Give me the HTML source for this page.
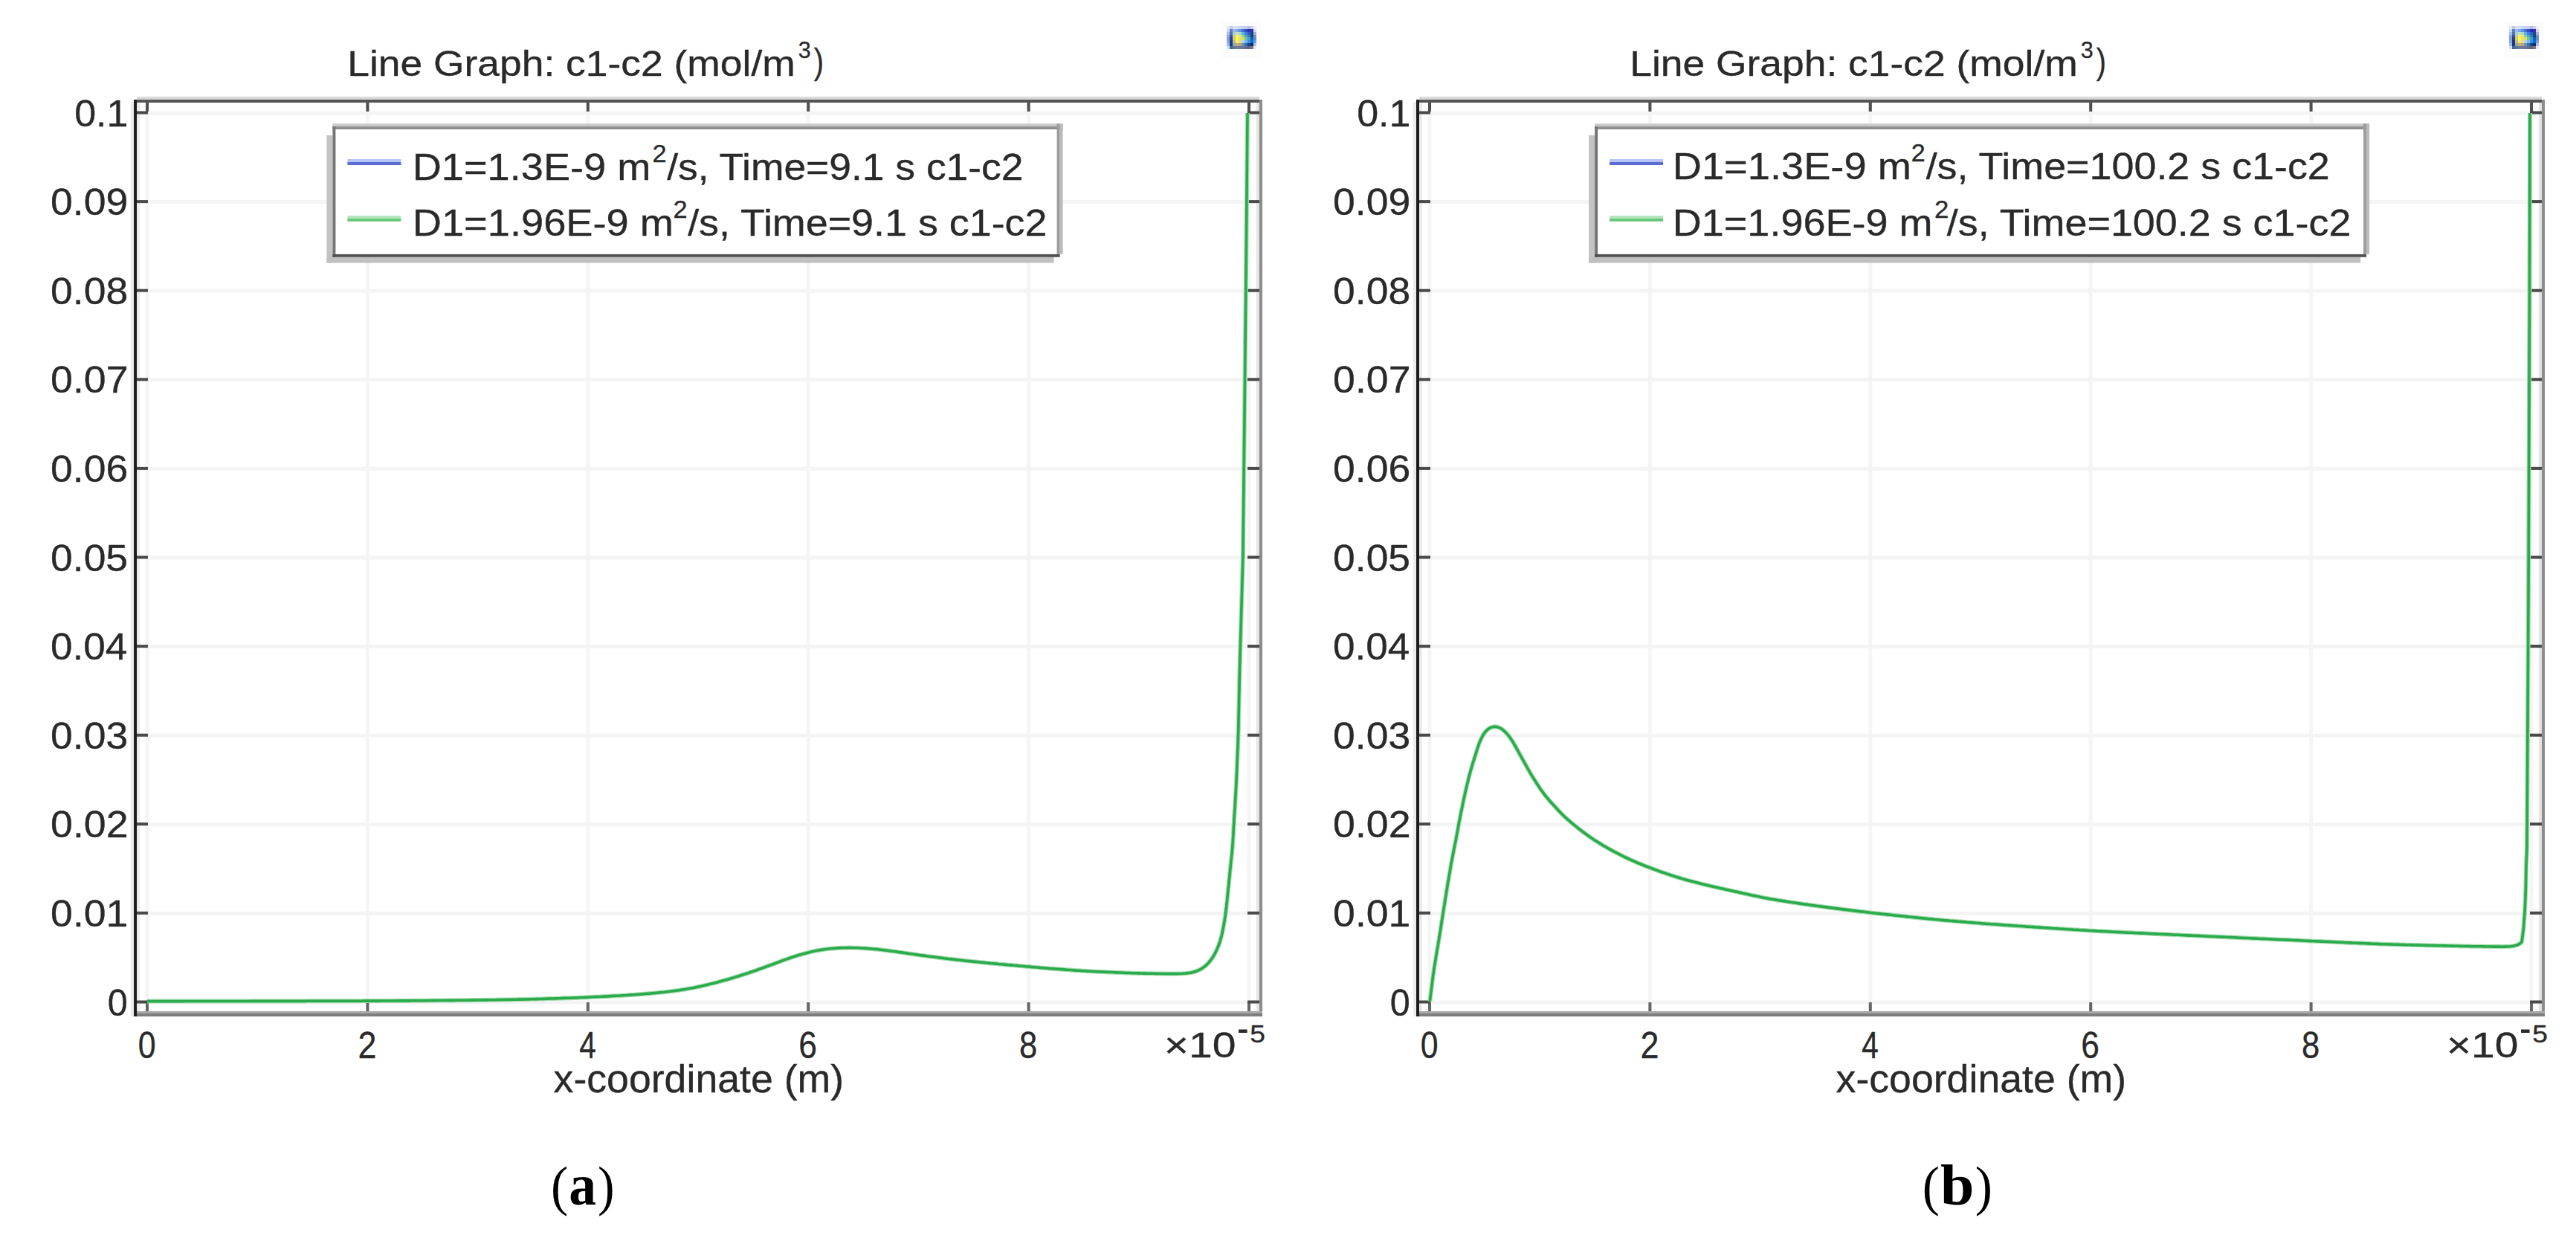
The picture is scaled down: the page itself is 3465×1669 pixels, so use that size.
<!DOCTYPE html><html><head><meta charset="utf-8"><title>Line Graph: c1-c2</title><style>html,body{margin:0;padding:0;background:#fff;}body{width:3465px;height:1669px;overflow:hidden;}svg{display:block;font-family:"Liberation Sans", sans-serif;}</style></head><body>
<svg width="3465" height="1669" viewBox="0 0 3465 1669">
<rect width="3465" height="1669" fill="#fff"/>
<g transform="translate(0,0)">
<text x="467.19" y="101.50" font-size="49.0" fill="#2a2a2a" stroke="#2a2a2a" stroke-width="0.35" textLength="602.55" lengthAdjust="spacingAndGlyphs">Line Graph: c1-c2 (mol/m</text>
<text x="1073.81" y="77.80" font-size="32.0" fill="#2a2a2a" stroke="#2a2a2a" stroke-width="0.35" textLength="16.95" lengthAdjust="spacingAndGlyphs">3</text>
<text x="1094.74" y="99.00" font-size="49.0" fill="#2a2a2a" stroke="#2a2a2a" stroke-width="0.35" textLength="13.25" lengthAdjust="spacingAndGlyphs">)</text>
<g shape-rendering="crispEdges"><rect x="1644" y="28" width="52" height="50" fill="#fcfcfc"/><rect x="1650.10" y="34.75" width="4.24" height="4.23" fill="#e8e8f4"/><rect x="1654.04" y="34.75" width="4.24" height="4.23" fill="#c0cce0"/><rect x="1657.98" y="34.75" width="4.24" height="4.23" fill="#dde0f5"/><rect x="1661.92" y="34.75" width="4.24" height="4.23" fill="#d0e0f8"/><rect x="1665.86" y="34.75" width="4.24" height="4.23" fill="#c8d8f8"/><rect x="1669.80" y="34.75" width="4.24" height="4.23" fill="#c8d0f5"/><rect x="1673.74" y="34.75" width="4.24" height="4.23" fill="#c8ccf0"/><rect x="1677.68" y="34.75" width="4.24" height="4.23" fill="#b8bcf0"/><rect x="1681.62" y="34.75" width="4.24" height="4.23" fill="#d0d0f5"/><rect x="1685.56" y="34.75" width="4.24" height="4.23" fill="#f0f0fa"/><rect x="1650.10" y="38.68" width="4.24" height="4.23" fill="#c8d8f0"/><rect x="1654.04" y="38.68" width="4.24" height="4.23" fill="#6080c0"/><rect x="1657.98" y="38.68" width="4.24" height="4.23" fill="#a0b8e8"/><rect x="1661.92" y="38.68" width="4.24" height="4.23" fill="#80a8e8"/><rect x="1665.86" y="38.68" width="4.24" height="4.23" fill="#6090e0"/><rect x="1669.80" y="38.68" width="4.24" height="4.23" fill="#4a70d0"/><rect x="1673.74" y="38.68" width="4.24" height="4.23" fill="#3050c0"/><rect x="1677.68" y="38.68" width="4.24" height="4.23" fill="#2030c0"/><rect x="1681.62" y="38.68" width="4.24" height="4.23" fill="#3038a0"/><rect x="1685.56" y="38.68" width="4.24" height="4.23" fill="#d8d8f0"/><rect x="1650.10" y="42.61" width="4.24" height="4.23" fill="#a8c0e8"/><rect x="1654.04" y="42.61" width="4.24" height="4.23" fill="#5070b8"/><rect x="1657.98" y="42.61" width="4.24" height="4.23" fill="#a8d0d0"/><rect x="1661.92" y="42.61" width="4.24" height="4.23" fill="#c8e0b8"/><rect x="1665.86" y="42.61" width="4.24" height="4.23" fill="#a8d8c8"/><rect x="1669.80" y="42.61" width="4.24" height="4.23" fill="#60b0e0"/><rect x="1673.74" y="42.61" width="4.24" height="4.23" fill="#4080e0"/><rect x="1677.68" y="42.61" width="4.24" height="4.23" fill="#3060c0"/><rect x="1681.62" y="42.61" width="4.24" height="4.23" fill="#204090"/><rect x="1685.56" y="42.61" width="4.24" height="4.23" fill="#a0b0d8"/><rect x="1650.10" y="46.54" width="4.24" height="4.23" fill="#90a8e8"/><rect x="1654.04" y="46.54" width="4.24" height="4.23" fill="#4050a8"/><rect x="1657.98" y="46.54" width="4.24" height="4.23" fill="#c8d088"/><rect x="1661.92" y="46.54" width="4.24" height="4.23" fill="#f8f070"/><rect x="1665.86" y="46.54" width="4.24" height="4.23" fill="#e0e880"/><rect x="1669.80" y="46.54" width="4.24" height="4.23" fill="#90d0a0"/><rect x="1673.74" y="46.54" width="4.24" height="4.23" fill="#50a8b0"/><rect x="1677.68" y="46.54" width="4.24" height="4.23" fill="#3080b8"/><rect x="1681.62" y="46.54" width="4.24" height="4.23" fill="#1c3c88"/><rect x="1685.56" y="46.54" width="4.24" height="4.23" fill="#7090c0"/><rect x="1650.10" y="50.47" width="4.24" height="4.23" fill="#88a0e0"/><rect x="1654.04" y="50.47" width="4.24" height="4.23" fill="#2c3c98"/><rect x="1657.98" y="50.47" width="4.24" height="4.23" fill="#d0d060"/><rect x="1661.92" y="50.47" width="4.24" height="4.23" fill="#fff850"/><rect x="1665.86" y="50.47" width="4.24" height="4.23" fill="#f0e060"/><rect x="1669.80" y="50.47" width="4.24" height="4.23" fill="#d0e070"/><rect x="1673.74" y="50.47" width="4.24" height="4.23" fill="#70c0b0"/><rect x="1677.68" y="50.47" width="4.24" height="4.23" fill="#40a0c8"/><rect x="1681.62" y="50.47" width="4.24" height="4.23" fill="#1060b8"/><rect x="1685.56" y="50.47" width="4.24" height="4.23" fill="#6090c8"/><rect x="1650.10" y="54.40" width="4.24" height="4.23" fill="#88a8e0"/><rect x="1654.04" y="54.40" width="4.24" height="4.23" fill="#203888"/><rect x="1657.98" y="54.40" width="4.24" height="4.23" fill="#c0c080"/><rect x="1661.92" y="54.40" width="4.24" height="4.23" fill="#fde870"/><rect x="1665.86" y="54.40" width="4.24" height="4.23" fill="#e8d888"/><rect x="1669.80" y="54.40" width="4.24" height="4.23" fill="#b8d0e0"/><rect x="1673.74" y="54.40" width="4.24" height="4.23" fill="#70b8f0"/><rect x="1677.68" y="54.40" width="4.24" height="4.23" fill="#3890e8"/><rect x="1681.62" y="54.40" width="4.24" height="4.23" fill="#1068c8"/><rect x="1685.56" y="54.40" width="4.24" height="4.23" fill="#70a0d0"/><rect x="1650.10" y="58.33" width="4.24" height="4.23" fill="#a0b8e0"/><rect x="1654.04" y="58.33" width="4.24" height="4.23" fill="#1c3888"/><rect x="1657.98" y="58.33" width="4.24" height="4.23" fill="#98a8a0"/><rect x="1661.92" y="58.33" width="4.24" height="4.23" fill="#c0b070"/><rect x="1665.86" y="58.33" width="4.24" height="4.23" fill="#b0a880"/><rect x="1669.80" y="58.33" width="4.24" height="4.23" fill="#7090b8"/><rect x="1673.74" y="58.33" width="4.24" height="4.23" fill="#3870b0"/><rect x="1677.68" y="58.33" width="4.24" height="4.23" fill="#104890"/><rect x="1681.62" y="58.33" width="4.24" height="4.23" fill="#0c2c70"/><rect x="1685.56" y="58.33" width="4.24" height="4.23" fill="#b0c0e0"/><rect x="1650.10" y="62.26" width="4.24" height="4.23" fill="#d0e0f0"/><rect x="1654.04" y="62.26" width="4.24" height="4.23" fill="#3c68a0"/><rect x="1657.98" y="62.26" width="4.24" height="4.23" fill="#607898"/><rect x="1661.92" y="62.26" width="4.24" height="4.23" fill="#707898"/><rect x="1665.86" y="62.26" width="4.24" height="4.23" fill="#707898"/><rect x="1669.80" y="62.26" width="4.24" height="4.23" fill="#6c7498"/><rect x="1673.74" y="62.26" width="4.24" height="4.23" fill="#686c90"/><rect x="1677.68" y="62.26" width="4.24" height="4.23" fill="#606080"/><rect x="1681.62" y="62.26" width="4.24" height="4.23" fill="#787888"/><rect x="1685.56" y="62.26" width="4.24" height="4.23" fill="#e8e8f0"/></g>
<rect x="184" y="130" width="1510" height="4" fill="#d8d8d8"/>
<rect x="176" y="137" width="4" height="1230" fill="#ebebeb"/>
<rect x="195.5" y="138" width="5" height="1222" fill="#f5f5f5"/>
<rect x="491.9" y="138" width="5" height="1222" fill="#f5f5f5"/>
<rect x="788.3" y="138" width="5" height="1222" fill="#f5f5f5"/>
<rect x="1084.7" y="138" width="5" height="1222" fill="#f5f5f5"/>
<rect x="1381.1" y="138" width="5" height="1222" fill="#f5f5f5"/>
<rect x="1677.5" y="138" width="5" height="1222" fill="#f5f5f5"/>
<rect x="184" y="1345.5" width="1510" height="5" fill="#f4f4f4"/>
<rect x="184" y="1225.9" width="1510" height="5" fill="#f4f4f4"/>
<rect x="184" y="1106.3" width="1510" height="5" fill="#f4f4f4"/>
<rect x="184" y="986.7" width="1510" height="5" fill="#f4f4f4"/>
<rect x="184" y="867.1" width="1510" height="5" fill="#f4f4f4"/>
<rect x="184" y="747.5" width="1510" height="5" fill="#f4f4f4"/>
<rect x="184" y="627.9" width="1510" height="5" fill="#f4f4f4"/>
<rect x="184" y="508.3" width="1510" height="5" fill="#f4f4f4"/>
<rect x="184" y="388.7" width="1510" height="5" fill="#f4f4f4"/>
<rect x="184" y="269.1" width="1510" height="5" fill="#f4f4f4"/>
<rect x="184" y="149.5" width="1510" height="5" fill="#f4f4f4"/>
<rect x="184" y="138" width="4" height="1222" fill="#ececec"/>
<rect x="1690" y="138" width="4" height="1222" fill="#e4e4e4"/>
<rect x="196.0" y="138" width="4" height="12" fill="#505050"/>
<rect x="196.0" y="1348" width="4" height="12" fill="#666"/>
<rect x="492.4" y="138" width="4" height="12" fill="#505050"/>
<rect x="492.4" y="1348" width="4" height="12" fill="#666"/>
<rect x="788.8" y="138" width="4" height="12" fill="#505050"/>
<rect x="788.8" y="1348" width="4" height="12" fill="#666"/>
<rect x="1085.2" y="138" width="4" height="12" fill="#505050"/>
<rect x="1085.2" y="1348" width="4" height="12" fill="#666"/>
<rect x="1381.6" y="138" width="4" height="12" fill="#505050"/>
<rect x="1381.6" y="1348" width="4" height="12" fill="#666"/>
<rect x="1678.0" y="138" width="4" height="12" fill="#505050"/>
<rect x="1678.0" y="1348" width="4" height="12" fill="#666"/>
<rect x="184" y="1345.5" width="15" height="4" fill="#4a4a4a"/>
<rect x="1678" y="1345.5" width="16" height="4" fill="#4a4a4a"/>
<rect x="184" y="1225.9" width="15" height="4" fill="#4a4a4a"/>
<rect x="1678" y="1225.9" width="16" height="4" fill="#4a4a4a"/>
<rect x="184" y="1106.3" width="15" height="4" fill="#4a4a4a"/>
<rect x="1678" y="1106.3" width="16" height="4" fill="#4a4a4a"/>
<rect x="184" y="986.7" width="15" height="4" fill="#4a4a4a"/>
<rect x="1678" y="986.7" width="16" height="4" fill="#4a4a4a"/>
<rect x="184" y="867.1" width="15" height="4" fill="#4a4a4a"/>
<rect x="1678" y="867.1" width="16" height="4" fill="#4a4a4a"/>
<rect x="184" y="747.5" width="15" height="4" fill="#4a4a4a"/>
<rect x="1678" y="747.5" width="16" height="4" fill="#4a4a4a"/>
<rect x="184" y="627.9" width="15" height="4" fill="#4a4a4a"/>
<rect x="1678" y="627.9" width="16" height="4" fill="#4a4a4a"/>
<rect x="184" y="508.3" width="15" height="4" fill="#4a4a4a"/>
<rect x="1678" y="508.3" width="16" height="4" fill="#4a4a4a"/>
<rect x="184" y="388.7" width="15" height="4" fill="#4a4a4a"/>
<rect x="1678" y="388.7" width="16" height="4" fill="#4a4a4a"/>
<rect x="184" y="269.1" width="15" height="4" fill="#4a4a4a"/>
<rect x="1678" y="269.1" width="16" height="4" fill="#4a4a4a"/>
<rect x="184" y="149.5" width="15" height="4" fill="#4a4a4a"/>
<rect x="1678" y="149.5" width="16" height="4" fill="#4a4a4a"/>
<rect x="180" y="134" width="1518" height="4" fill="#555"/>
<rect x="1694" y="134" width="4" height="1233" fill="#8c8c8c"/>
<rect x="180" y="1360" width="1518" height="3" fill="#a8a8a8"/>
<rect x="180" y="1363" width="1518" height="4" fill="#7e7e7e"/>
<rect x="180" y="134" width="4" height="1233" fill="#1e1e1e"/>
<text x="144.78" y="1365.50" font-size="50.0" fill="#2a2a2a" stroke="#2a2a2a" stroke-width="0.35" textLength="26.93" lengthAdjust="spacingAndGlyphs">0</text>
<text x="68.08" y="1245.90" font-size="50.0" fill="#2a2a2a" stroke="#2a2a2a" stroke-width="0.35" textLength="104.36" lengthAdjust="spacingAndGlyphs">0.01</text>
<text x="68.08" y="1126.30" font-size="50.0" fill="#2a2a2a" stroke="#2a2a2a" stroke-width="0.35" textLength="104.45" lengthAdjust="spacingAndGlyphs">0.02</text>
<text x="68.09" y="1006.70" font-size="50.0" fill="#2a2a2a" stroke="#2a2a2a" stroke-width="0.35" textLength="104.09" lengthAdjust="spacingAndGlyphs">0.03</text>
<text x="68.10" y="887.10" font-size="50.0" fill="#2a2a2a" stroke="#2a2a2a" stroke-width="0.35" textLength="103.28" lengthAdjust="spacingAndGlyphs">0.04</text>
<text x="68.09" y="767.50" font-size="50.0" fill="#2a2a2a" stroke="#2a2a2a" stroke-width="0.35" textLength="103.98" lengthAdjust="spacingAndGlyphs">0.05</text>
<text x="68.09" y="647.90" font-size="50.0" fill="#2a2a2a" stroke="#2a2a2a" stroke-width="0.35" textLength="104.09" lengthAdjust="spacingAndGlyphs">0.06</text>
<text x="68.08" y="528.30" font-size="50.0" fill="#2a2a2a" stroke="#2a2a2a" stroke-width="0.35" textLength="104.45" lengthAdjust="spacingAndGlyphs">0.07</text>
<text x="68.09" y="408.70" font-size="50.0" fill="#2a2a2a" stroke="#2a2a2a" stroke-width="0.35" textLength="104.06" lengthAdjust="spacingAndGlyphs">0.08</text>
<text x="68.08" y="289.10" font-size="50.0" fill="#2a2a2a" stroke="#2a2a2a" stroke-width="0.35" textLength="104.28" lengthAdjust="spacingAndGlyphs">0.09</text>
<text x="100.15" y="169.50" font-size="50.0" fill="#2a2a2a" stroke="#2a2a2a" stroke-width="0.35" textLength="72.22" lengthAdjust="spacingAndGlyphs">0.1</text>
<text x="185.70" y="1422.50" font-size="50.0" fill="#2a2a2a" stroke="#2a2a2a" stroke-width="0.35" textLength="23.79" lengthAdjust="spacingAndGlyphs">0</text>
<text x="481.52" y="1422.50" font-size="50.0" fill="#2a2a2a" stroke="#2a2a2a" stroke-width="0.35" textLength="24.97" lengthAdjust="spacingAndGlyphs">2</text>
<text x="779.24" y="1422.50" font-size="50.0" fill="#2a2a2a" stroke="#2a2a2a" stroke-width="0.35" textLength="22.57" lengthAdjust="spacingAndGlyphs">4</text>
<text x="1074.32" y="1422.50" font-size="50.0" fill="#2a2a2a" stroke="#2a2a2a" stroke-width="0.35" textLength="24.65" lengthAdjust="spacingAndGlyphs">6</text>
<text x="1371.08" y="1422.50" font-size="50.0" fill="#2a2a2a" stroke="#2a2a2a" stroke-width="0.35" textLength="24.24" lengthAdjust="spacingAndGlyphs">8</text>
<text x="1565.72" y="1422.00" font-size="49.0" fill="#2a2a2a" stroke="#2a2a2a" stroke-width="0.35" textLength="96.84" lengthAdjust="spacingAndGlyphs">×10</text>
<rect x="1666" y="1384.5" width="11.6" height="4.5" fill="#2a2a2a"/>
<text x="1681.18" y="1401.50" font-size="33.0" fill="#2a2a2a" stroke="#2a2a2a" stroke-width="0.35" textLength="20.70" lengthAdjust="spacingAndGlyphs">5</text>
<text x="744.57" y="1469.00" font-size="51.0" fill="#2a2a2a" stroke="#2a2a2a" stroke-width="0.35" textLength="390.58" lengthAdjust="spacingAndGlyphs">x-coordinate (m)</text>
<rect x="439.4" y="182" width="8" height="171.6" fill="#c4c4c4"/>
<rect x="439.4" y="345.8" width="978.2" height="7.8" fill="#c0c0c0"/>
<rect x="447.4" y="166.3" width="982.2" height="179.5" fill="#fff"/>
<rect x="447.4" y="166.3" width="982.2" height="3.8" fill="#c8c8c8"/>
<rect x="447.4" y="170.1" width="982.2" height="3.9" fill="#8f8f8f"/>
<rect x="447.4" y="170" width="4" height="175.8" fill="#757575"/>
<rect x="1421.6" y="166.3" width="4" height="175.5" fill="#9c9c9c"/>
<rect x="1425.6" y="166.3" width="4" height="175.5" fill="#bbbbbb"/>
<rect x="447.4" y="341.9" width="978.2" height="3.9" fill="#505050"/>
<rect x="467.4" y="214" width="72" height="4" fill="#b8c4f8"/>
<rect x="467.4" y="218" width="72" height="4" fill="#5a6dd0"/>
<rect x="467.4" y="290.1" width="72" height="3.9" fill="#b2e4bb"/>
<rect x="467.4" y="294" width="72" height="3.8" fill="#66c977"/>
<text x="554.73" y="241.90" font-size="50.0" fill="#2a2a2a" stroke="#2a2a2a" stroke-width="0.35" textLength="320.66" lengthAdjust="spacingAndGlyphs">D1=1.3E-9 m</text>
<text x="877.45" y="217.90" font-size="33.0" fill="#2a2a2a" stroke="#2a2a2a" stroke-width="0.35" textLength="19.11" lengthAdjust="spacingAndGlyphs">2</text>
<text x="897.17" y="241.90" font-size="50.0" fill="#2a2a2a" stroke="#2a2a2a" stroke-width="0.35" textLength="479.32" lengthAdjust="spacingAndGlyphs">/s, Time=9.1 s c1-c2</text>
<text x="554.73" y="317.40" font-size="50.0" fill="#2a2a2a" stroke="#2a2a2a" stroke-width="0.35" textLength="351.28" lengthAdjust="spacingAndGlyphs">D1=1.96E-9 m</text>
<text x="905.45" y="293.40" font-size="33.0" fill="#2a2a2a" stroke="#2a2a2a" stroke-width="0.35" textLength="19.11" lengthAdjust="spacingAndGlyphs">2</text>
<text x="925.17" y="317.40" font-size="50.0" fill="#2a2a2a" stroke="#2a2a2a" stroke-width="0.35" textLength="483.34" lengthAdjust="spacingAndGlyphs">/s, Time=9.1 s c1-c2</text>
</g>
<g transform="translate(1725,0)">
<text x="467.19" y="101.50" font-size="49.0" fill="#2a2a2a" stroke="#2a2a2a" stroke-width="0.35" textLength="602.55" lengthAdjust="spacingAndGlyphs">Line Graph: c1-c2 (mol/m</text>
<text x="1073.81" y="77.80" font-size="32.0" fill="#2a2a2a" stroke="#2a2a2a" stroke-width="0.35" textLength="16.95" lengthAdjust="spacingAndGlyphs">3</text>
<text x="1094.74" y="99.00" font-size="49.0" fill="#2a2a2a" stroke="#2a2a2a" stroke-width="0.35" textLength="13.25" lengthAdjust="spacingAndGlyphs">)</text>
<g shape-rendering="crispEdges"><rect x="1644" y="28" width="52" height="50" fill="#fcfcfc"/><rect x="1650.10" y="34.75" width="4.24" height="4.23" fill="#e8e8f4"/><rect x="1654.04" y="34.75" width="4.24" height="4.23" fill="#c0cce0"/><rect x="1657.98" y="34.75" width="4.24" height="4.23" fill="#dde0f5"/><rect x="1661.92" y="34.75" width="4.24" height="4.23" fill="#d0e0f8"/><rect x="1665.86" y="34.75" width="4.24" height="4.23" fill="#c8d8f8"/><rect x="1669.80" y="34.75" width="4.24" height="4.23" fill="#c8d0f5"/><rect x="1673.74" y="34.75" width="4.24" height="4.23" fill="#c8ccf0"/><rect x="1677.68" y="34.75" width="4.24" height="4.23" fill="#b8bcf0"/><rect x="1681.62" y="34.75" width="4.24" height="4.23" fill="#d0d0f5"/><rect x="1685.56" y="34.75" width="4.24" height="4.23" fill="#f0f0fa"/><rect x="1650.10" y="38.68" width="4.24" height="4.23" fill="#c8d8f0"/><rect x="1654.04" y="38.68" width="4.24" height="4.23" fill="#6080c0"/><rect x="1657.98" y="38.68" width="4.24" height="4.23" fill="#a0b8e8"/><rect x="1661.92" y="38.68" width="4.24" height="4.23" fill="#80a8e8"/><rect x="1665.86" y="38.68" width="4.24" height="4.23" fill="#6090e0"/><rect x="1669.80" y="38.68" width="4.24" height="4.23" fill="#4a70d0"/><rect x="1673.74" y="38.68" width="4.24" height="4.23" fill="#3050c0"/><rect x="1677.68" y="38.68" width="4.24" height="4.23" fill="#2030c0"/><rect x="1681.62" y="38.68" width="4.24" height="4.23" fill="#3038a0"/><rect x="1685.56" y="38.68" width="4.24" height="4.23" fill="#d8d8f0"/><rect x="1650.10" y="42.61" width="4.24" height="4.23" fill="#a8c0e8"/><rect x="1654.04" y="42.61" width="4.24" height="4.23" fill="#5070b8"/><rect x="1657.98" y="42.61" width="4.24" height="4.23" fill="#a8d0d0"/><rect x="1661.92" y="42.61" width="4.24" height="4.23" fill="#c8e0b8"/><rect x="1665.86" y="42.61" width="4.24" height="4.23" fill="#a8d8c8"/><rect x="1669.80" y="42.61" width="4.24" height="4.23" fill="#60b0e0"/><rect x="1673.74" y="42.61" width="4.24" height="4.23" fill="#4080e0"/><rect x="1677.68" y="42.61" width="4.24" height="4.23" fill="#3060c0"/><rect x="1681.62" y="42.61" width="4.24" height="4.23" fill="#204090"/><rect x="1685.56" y="42.61" width="4.24" height="4.23" fill="#a0b0d8"/><rect x="1650.10" y="46.54" width="4.24" height="4.23" fill="#90a8e8"/><rect x="1654.04" y="46.54" width="4.24" height="4.23" fill="#4050a8"/><rect x="1657.98" y="46.54" width="4.24" height="4.23" fill="#c8d088"/><rect x="1661.92" y="46.54" width="4.24" height="4.23" fill="#f8f070"/><rect x="1665.86" y="46.54" width="4.24" height="4.23" fill="#e0e880"/><rect x="1669.80" y="46.54" width="4.24" height="4.23" fill="#90d0a0"/><rect x="1673.74" y="46.54" width="4.24" height="4.23" fill="#50a8b0"/><rect x="1677.68" y="46.54" width="4.24" height="4.23" fill="#3080b8"/><rect x="1681.62" y="46.54" width="4.24" height="4.23" fill="#1c3c88"/><rect x="1685.56" y="46.54" width="4.24" height="4.23" fill="#7090c0"/><rect x="1650.10" y="50.47" width="4.24" height="4.23" fill="#88a0e0"/><rect x="1654.04" y="50.47" width="4.24" height="4.23" fill="#2c3c98"/><rect x="1657.98" y="50.47" width="4.24" height="4.23" fill="#d0d060"/><rect x="1661.92" y="50.47" width="4.24" height="4.23" fill="#fff850"/><rect x="1665.86" y="50.47" width="4.24" height="4.23" fill="#f0e060"/><rect x="1669.80" y="50.47" width="4.24" height="4.23" fill="#d0e070"/><rect x="1673.74" y="50.47" width="4.24" height="4.23" fill="#70c0b0"/><rect x="1677.68" y="50.47" width="4.24" height="4.23" fill="#40a0c8"/><rect x="1681.62" y="50.47" width="4.24" height="4.23" fill="#1060b8"/><rect x="1685.56" y="50.47" width="4.24" height="4.23" fill="#6090c8"/><rect x="1650.10" y="54.40" width="4.24" height="4.23" fill="#88a8e0"/><rect x="1654.04" y="54.40" width="4.24" height="4.23" fill="#203888"/><rect x="1657.98" y="54.40" width="4.24" height="4.23" fill="#c0c080"/><rect x="1661.92" y="54.40" width="4.24" height="4.23" fill="#fde870"/><rect x="1665.86" y="54.40" width="4.24" height="4.23" fill="#e8d888"/><rect x="1669.80" y="54.40" width="4.24" height="4.23" fill="#b8d0e0"/><rect x="1673.74" y="54.40" width="4.24" height="4.23" fill="#70b8f0"/><rect x="1677.68" y="54.40" width="4.24" height="4.23" fill="#3890e8"/><rect x="1681.62" y="54.40" width="4.24" height="4.23" fill="#1068c8"/><rect x="1685.56" y="54.40" width="4.24" height="4.23" fill="#70a0d0"/><rect x="1650.10" y="58.33" width="4.24" height="4.23" fill="#a0b8e0"/><rect x="1654.04" y="58.33" width="4.24" height="4.23" fill="#1c3888"/><rect x="1657.98" y="58.33" width="4.24" height="4.23" fill="#98a8a0"/><rect x="1661.92" y="58.33" width="4.24" height="4.23" fill="#c0b070"/><rect x="1665.86" y="58.33" width="4.24" height="4.23" fill="#b0a880"/><rect x="1669.80" y="58.33" width="4.24" height="4.23" fill="#7090b8"/><rect x="1673.74" y="58.33" width="4.24" height="4.23" fill="#3870b0"/><rect x="1677.68" y="58.33" width="4.24" height="4.23" fill="#104890"/><rect x="1681.62" y="58.33" width="4.24" height="4.23" fill="#0c2c70"/><rect x="1685.56" y="58.33" width="4.24" height="4.23" fill="#b0c0e0"/><rect x="1650.10" y="62.26" width="4.24" height="4.23" fill="#d0e0f0"/><rect x="1654.04" y="62.26" width="4.24" height="4.23" fill="#3c68a0"/><rect x="1657.98" y="62.26" width="4.24" height="4.23" fill="#607898"/><rect x="1661.92" y="62.26" width="4.24" height="4.23" fill="#707898"/><rect x="1665.86" y="62.26" width="4.24" height="4.23" fill="#707898"/><rect x="1669.80" y="62.26" width="4.24" height="4.23" fill="#6c7498"/><rect x="1673.74" y="62.26" width="4.24" height="4.23" fill="#686c90"/><rect x="1677.68" y="62.26" width="4.24" height="4.23" fill="#606080"/><rect x="1681.62" y="62.26" width="4.24" height="4.23" fill="#787888"/><rect x="1685.56" y="62.26" width="4.24" height="4.23" fill="#e8e8f0"/></g>
<rect x="184" y="130" width="1510" height="4" fill="#d8d8d8"/>
<rect x="176" y="137" width="4" height="1230" fill="#ebebeb"/>
<rect x="195.5" y="138" width="5" height="1222" fill="#f5f5f5"/>
<rect x="491.9" y="138" width="5" height="1222" fill="#f5f5f5"/>
<rect x="788.3" y="138" width="5" height="1222" fill="#f5f5f5"/>
<rect x="1084.7" y="138" width="5" height="1222" fill="#f5f5f5"/>
<rect x="1381.1" y="138" width="5" height="1222" fill="#f5f5f5"/>
<rect x="1677.5" y="138" width="5" height="1222" fill="#f5f5f5"/>
<rect x="184" y="1345.5" width="1510" height="5" fill="#f4f4f4"/>
<rect x="184" y="1225.9" width="1510" height="5" fill="#f4f4f4"/>
<rect x="184" y="1106.3" width="1510" height="5" fill="#f4f4f4"/>
<rect x="184" y="986.7" width="1510" height="5" fill="#f4f4f4"/>
<rect x="184" y="867.1" width="1510" height="5" fill="#f4f4f4"/>
<rect x="184" y="747.5" width="1510" height="5" fill="#f4f4f4"/>
<rect x="184" y="627.9" width="1510" height="5" fill="#f4f4f4"/>
<rect x="184" y="508.3" width="1510" height="5" fill="#f4f4f4"/>
<rect x="184" y="388.7" width="1510" height="5" fill="#f4f4f4"/>
<rect x="184" y="269.1" width="1510" height="5" fill="#f4f4f4"/>
<rect x="184" y="149.5" width="1510" height="5" fill="#f4f4f4"/>
<rect x="184" y="138" width="4" height="1222" fill="#ececec"/>
<rect x="1690" y="138" width="4" height="1222" fill="#e4e4e4"/>
<rect x="196.0" y="138" width="4" height="12" fill="#505050"/>
<rect x="196.0" y="1348" width="4" height="12" fill="#666"/>
<rect x="492.4" y="138" width="4" height="12" fill="#505050"/>
<rect x="492.4" y="1348" width="4" height="12" fill="#666"/>
<rect x="788.8" y="138" width="4" height="12" fill="#505050"/>
<rect x="788.8" y="1348" width="4" height="12" fill="#666"/>
<rect x="1085.2" y="138" width="4" height="12" fill="#505050"/>
<rect x="1085.2" y="1348" width="4" height="12" fill="#666"/>
<rect x="1381.6" y="138" width="4" height="12" fill="#505050"/>
<rect x="1381.6" y="1348" width="4" height="12" fill="#666"/>
<rect x="1678.0" y="138" width="4" height="12" fill="#505050"/>
<rect x="1678.0" y="1348" width="4" height="12" fill="#666"/>
<rect x="184" y="1345.5" width="15" height="4" fill="#4a4a4a"/>
<rect x="1678" y="1345.5" width="16" height="4" fill="#4a4a4a"/>
<rect x="184" y="1225.9" width="15" height="4" fill="#4a4a4a"/>
<rect x="1678" y="1225.9" width="16" height="4" fill="#4a4a4a"/>
<rect x="184" y="1106.3" width="15" height="4" fill="#4a4a4a"/>
<rect x="1678" y="1106.3" width="16" height="4" fill="#4a4a4a"/>
<rect x="184" y="986.7" width="15" height="4" fill="#4a4a4a"/>
<rect x="1678" y="986.7" width="16" height="4" fill="#4a4a4a"/>
<rect x="184" y="867.1" width="15" height="4" fill="#4a4a4a"/>
<rect x="1678" y="867.1" width="16" height="4" fill="#4a4a4a"/>
<rect x="184" y="747.5" width="15" height="4" fill="#4a4a4a"/>
<rect x="1678" y="747.5" width="16" height="4" fill="#4a4a4a"/>
<rect x="184" y="627.9" width="15" height="4" fill="#4a4a4a"/>
<rect x="1678" y="627.9" width="16" height="4" fill="#4a4a4a"/>
<rect x="184" y="508.3" width="15" height="4" fill="#4a4a4a"/>
<rect x="1678" y="508.3" width="16" height="4" fill="#4a4a4a"/>
<rect x="184" y="388.7" width="15" height="4" fill="#4a4a4a"/>
<rect x="1678" y="388.7" width="16" height="4" fill="#4a4a4a"/>
<rect x="184" y="269.1" width="15" height="4" fill="#4a4a4a"/>
<rect x="1678" y="269.1" width="16" height="4" fill="#4a4a4a"/>
<rect x="184" y="149.5" width="15" height="4" fill="#4a4a4a"/>
<rect x="1678" y="149.5" width="16" height="4" fill="#4a4a4a"/>
<rect x="180" y="134" width="1518" height="4" fill="#555"/>
<rect x="1694" y="134" width="4" height="1233" fill="#8c8c8c"/>
<rect x="180" y="1360" width="1518" height="3" fill="#a8a8a8"/>
<rect x="180" y="1363" width="1518" height="4" fill="#7e7e7e"/>
<rect x="180" y="134" width="4" height="1233" fill="#1e1e1e"/>
<text x="144.78" y="1365.50" font-size="50.0" fill="#2a2a2a" stroke="#2a2a2a" stroke-width="0.35" textLength="26.93" lengthAdjust="spacingAndGlyphs">0</text>
<text x="68.08" y="1245.90" font-size="50.0" fill="#2a2a2a" stroke="#2a2a2a" stroke-width="0.35" textLength="104.36" lengthAdjust="spacingAndGlyphs">0.01</text>
<text x="68.08" y="1126.30" font-size="50.0" fill="#2a2a2a" stroke="#2a2a2a" stroke-width="0.35" textLength="104.45" lengthAdjust="spacingAndGlyphs">0.02</text>
<text x="68.09" y="1006.70" font-size="50.0" fill="#2a2a2a" stroke="#2a2a2a" stroke-width="0.35" textLength="104.09" lengthAdjust="spacingAndGlyphs">0.03</text>
<text x="68.10" y="887.10" font-size="50.0" fill="#2a2a2a" stroke="#2a2a2a" stroke-width="0.35" textLength="103.28" lengthAdjust="spacingAndGlyphs">0.04</text>
<text x="68.09" y="767.50" font-size="50.0" fill="#2a2a2a" stroke="#2a2a2a" stroke-width="0.35" textLength="103.98" lengthAdjust="spacingAndGlyphs">0.05</text>
<text x="68.09" y="647.90" font-size="50.0" fill="#2a2a2a" stroke="#2a2a2a" stroke-width="0.35" textLength="104.09" lengthAdjust="spacingAndGlyphs">0.06</text>
<text x="68.08" y="528.30" font-size="50.0" fill="#2a2a2a" stroke="#2a2a2a" stroke-width="0.35" textLength="104.45" lengthAdjust="spacingAndGlyphs">0.07</text>
<text x="68.09" y="408.70" font-size="50.0" fill="#2a2a2a" stroke="#2a2a2a" stroke-width="0.35" textLength="104.06" lengthAdjust="spacingAndGlyphs">0.08</text>
<text x="68.08" y="289.10" font-size="50.0" fill="#2a2a2a" stroke="#2a2a2a" stroke-width="0.35" textLength="104.28" lengthAdjust="spacingAndGlyphs">0.09</text>
<text x="100.15" y="169.50" font-size="50.0" fill="#2a2a2a" stroke="#2a2a2a" stroke-width="0.35" textLength="72.22" lengthAdjust="spacingAndGlyphs">0.1</text>
<text x="185.70" y="1422.50" font-size="50.0" fill="#2a2a2a" stroke="#2a2a2a" stroke-width="0.35" textLength="23.79" lengthAdjust="spacingAndGlyphs">0</text>
<text x="481.52" y="1422.50" font-size="50.0" fill="#2a2a2a" stroke="#2a2a2a" stroke-width="0.35" textLength="24.97" lengthAdjust="spacingAndGlyphs">2</text>
<text x="779.24" y="1422.50" font-size="50.0" fill="#2a2a2a" stroke="#2a2a2a" stroke-width="0.35" textLength="22.57" lengthAdjust="spacingAndGlyphs">4</text>
<text x="1074.32" y="1422.50" font-size="50.0" fill="#2a2a2a" stroke="#2a2a2a" stroke-width="0.35" textLength="24.65" lengthAdjust="spacingAndGlyphs">6</text>
<text x="1371.08" y="1422.50" font-size="50.0" fill="#2a2a2a" stroke="#2a2a2a" stroke-width="0.35" textLength="24.24" lengthAdjust="spacingAndGlyphs">8</text>
<text x="1565.72" y="1422.00" font-size="49.0" fill="#2a2a2a" stroke="#2a2a2a" stroke-width="0.35" textLength="96.84" lengthAdjust="spacingAndGlyphs">×10</text>
<rect x="1666" y="1384.5" width="11.6" height="4.5" fill="#2a2a2a"/>
<text x="1681.18" y="1401.50" font-size="33.0" fill="#2a2a2a" stroke="#2a2a2a" stroke-width="0.35" textLength="20.70" lengthAdjust="spacingAndGlyphs">5</text>
<text x="744.57" y="1469.00" font-size="51.0" fill="#2a2a2a" stroke="#2a2a2a" stroke-width="0.35" textLength="390.58" lengthAdjust="spacingAndGlyphs">x-coordinate (m)</text>
<rect x="412.1" y="182" width="8" height="171.6" fill="#c4c4c4"/>
<rect x="412.1" y="345.8" width="1038.0" height="7.8" fill="#c0c0c0"/>
<rect x="420.1" y="166.3" width="1042.0" height="179.5" fill="#fff"/>
<rect x="420.1" y="166.3" width="1042.0" height="3.8" fill="#c8c8c8"/>
<rect x="420.1" y="170.1" width="1042.0" height="3.9" fill="#8f8f8f"/>
<rect x="420.1" y="170" width="4" height="175.8" fill="#757575"/>
<rect x="1454.1" y="166.3" width="4" height="175.5" fill="#9c9c9c"/>
<rect x="1458.1" y="166.3" width="4" height="175.5" fill="#bbbbbb"/>
<rect x="420.1" y="341.9" width="1038.0" height="3.9" fill="#505050"/>
<rect x="440.1" y="214" width="72" height="4" fill="#b8c4f8"/>
<rect x="440.1" y="218" width="72" height="4" fill="#5a6dd0"/>
<rect x="440.1" y="290.1" width="72" height="3.9" fill="#b2e4bb"/>
<rect x="440.1" y="294" width="72" height="3.8" fill="#66c977"/>
<text x="524.72" y="240.90" font-size="50.0" fill="#2a2a2a" stroke="#2a2a2a" stroke-width="0.35" textLength="321.18" lengthAdjust="spacingAndGlyphs">D1=1.3E-9 m</text>
<text x="845.66" y="216.90" font-size="33.0" fill="#2a2a2a" stroke="#2a2a2a" stroke-width="0.35" textLength="18.98" lengthAdjust="spacingAndGlyphs">2</text>
<text x="865.67" y="240.90" font-size="50.0" fill="#2a2a2a" stroke="#2a2a2a" stroke-width="0.35" textLength="543.14" lengthAdjust="spacingAndGlyphs">/s, Time=100.2 s c1-c2</text>
<text x="524.74" y="317.00" font-size="50.0" fill="#2a2a2a" stroke="#2a2a2a" stroke-width="0.35" textLength="349.84" lengthAdjust="spacingAndGlyphs">D1=1.96E-9 m</text>
<text x="877.13" y="293.00" font-size="33.0" fill="#2a2a2a" stroke="#2a2a2a" stroke-width="0.35" textLength="19.35" lengthAdjust="spacingAndGlyphs">2</text>
<text x="893.77" y="317.00" font-size="50.0" fill="#2a2a2a" stroke="#2a2a2a" stroke-width="0.35" textLength="543.65" lengthAdjust="spacingAndGlyphs">/s, Time=100.2 s c1-c2</text>
</g>
<path d="M198.0,1346.6 L208.9,1346.6 L211.3,1346.6 L214.0,1346.6 L217.0,1346.6 L220.2,1346.6 L223.5,1346.6 L227.1,1346.6 L230.7,1346.6 L234.5,1346.6 L238.3,1346.6 L242.2,1346.6 L246.1,1346.6 L250.1,1346.5 L254.0,1346.5 L258.0,1346.5 L262.0,1346.5 L266.0,1346.5 L270.0,1346.5 L274.0,1346.5 L278.0,1346.5 L282.0,1346.5 L286.0,1346.5 L290.0,1346.5 L294.0,1346.5 L298.0,1346.5 L302.0,1346.5 L306.0,1346.5 L310.0,1346.5 L314.0,1346.5 L318.0,1346.5 L322.0,1346.5 L326.0,1346.5 L330.0,1346.5 L334.0,1346.5 L338.0,1346.4 L342.0,1346.4 L346.0,1346.4 L350.0,1346.4 L354.0,1346.4 L358.0,1346.4 L362.0,1346.4 L366.0,1346.4 L370.0,1346.4 L374.0,1346.4 L378.0,1346.4 L382.0,1346.4 L386.0,1346.4 L390.0,1346.4 L394.0,1346.4 L398.0,1346.4 L402.0,1346.4 L406.0,1346.4 L410.0,1346.4 L414.0,1346.3 L418.0,1346.3 L422.0,1346.3 L426.0,1346.3 L430.0,1346.3 L434.0,1346.3 L438.0,1346.3 L442.0,1346.3 L446.0,1346.3 L450.0,1346.3 L454.0,1346.3 L458.0,1346.3 L462.0,1346.2 L466.0,1346.2 L470.0,1346.2 L474.0,1346.2 L478.0,1346.2 L482.0,1346.2 L486.0,1346.2 L490.0,1346.1 L494.0,1346.1 L498.0,1346.1 L502.0,1346.1 L506.0,1346.1 L510.0,1346.1 L514.0,1346.0 L518.0,1346.0 L522.0,1346.0 L526.0,1346.0 L530.0,1346.0 L534.0,1345.9 L538.0,1345.9 L542.0,1345.9 L546.0,1345.9 L550.0,1345.9 L554.0,1345.8 L558.0,1345.8 L562.0,1345.8 L566.0,1345.7 L570.0,1345.7 L574.0,1345.7 L578.0,1345.6 L582.0,1345.6 L586.0,1345.6 L590.0,1345.5 L594.0,1345.5 L598.0,1345.5 L602.0,1345.4 L606.0,1345.4 L610.0,1345.4 L614.0,1345.3 L618.0,1345.3 L622.0,1345.2 L626.0,1345.2 L630.0,1345.2 L634.0,1345.1 L638.0,1345.1 L642.0,1345.0 L646.0,1345.0 L650.0,1344.9 L654.0,1344.9 L658.0,1344.8 L662.0,1344.8 L666.0,1344.7 L670.0,1344.6 L674.0,1344.6 L678.0,1344.5 L682.0,1344.4 L686.0,1344.4 L690.0,1344.3 L694.0,1344.2 L698.0,1344.1 L702.0,1344.1 L706.0,1344.0 L710.0,1343.9 L714.0,1343.8 L718.0,1343.7 L722.0,1343.6 L726.0,1343.5 L730.0,1343.4 L734.0,1343.2 L738.0,1343.1 L742.0,1343.0 L746.0,1342.9 L750.0,1342.7 L754.0,1342.6 L758.0,1342.4 L762.0,1342.3 L766.0,1342.2 L770.0,1342.0 L773.9,1341.9 L777.9,1341.7 L781.9,1341.5 L785.9,1341.4 L789.9,1341.2 L793.9,1341.0 L797.9,1340.8 L801.9,1340.6 L805.9,1340.5 L809.9,1340.3 L813.9,1340.1 L817.9,1339.9 L821.9,1339.6 L825.9,1339.4 L829.9,1339.2 L833.9,1339.0 L837.9,1338.7 L841.9,1338.5 L845.9,1338.2 L849.8,1337.9 L853.8,1337.7 L857.8,1337.4 L861.8,1337.1 L865.8,1336.7 L869.8,1336.4 L873.8,1336.1 L877.7,1335.7 L881.7,1335.4 L885.7,1335.0 L889.7,1334.6 L893.7,1334.2 L897.6,1333.7 L901.6,1333.3 L905.6,1332.8 L909.5,1332.3 L913.5,1331.7 L917.4,1331.1 L921.4,1330.5 L925.3,1329.8 L929.2,1329.1 L933.2,1328.4 L937.1,1327.6 L941.0,1326.8 L944.9,1325.9 L948.8,1325.0 L952.7,1324.1 L956.6,1323.1 L960.4,1322.2 L964.3,1321.2 L968.2,1320.1 L972.0,1319.1 L975.9,1318.0 L979.7,1316.9 L983.5,1315.8 L987.4,1314.6 L991.2,1313.4 L995.0,1312.3 L998.8,1311.0 L1002.6,1309.8 L1006.4,1308.6 L1010.2,1307.3 L1014.0,1306.0 L1017.8,1304.7 L1021.5,1303.3 L1025.3,1302.0 L1029.1,1300.6 L1032.8,1299.2 L1036.6,1297.9 L1040.3,1296.5 L1044.0,1295.1 L1047.8,1293.7 L1051.5,1292.3 L1055.3,1290.9 L1059.1,1289.6 L1062.8,1288.3 L1066.6,1287.0 L1070.4,1285.8 L1074.2,1284.6 L1078.0,1283.5 L1081.9,1282.4 L1085.7,1281.4 L1089.6,1280.4 L1093.5,1279.6 L1097.3,1278.8 L1101.3,1278.0 L1105.2,1277.4 L1109.1,1276.8 L1113.1,1276.3 L1117.0,1275.8 L1121.0,1275.5 L1124.9,1275.2 L1128.9,1274.9 L1132.9,1274.8 L1136.9,1274.7 L1140.9,1274.6 L1144.8,1274.6 L1148.8,1274.7 L1152.8,1274.8 L1156.8,1275.0 L1160.8,1275.2 L1164.8,1275.4 L1168.7,1275.7 L1172.7,1276.1 L1176.7,1276.4 L1180.7,1276.8 L1184.7,1277.3 L1188.6,1277.7 L1192.6,1278.2 L1196.6,1278.7 L1200.5,1279.3 L1204.5,1279.8 L1208.4,1280.4 L1212.4,1280.9 L1216.4,1281.5 L1220.3,1282.1 L1224.3,1282.7 L1228.2,1283.2 L1232.2,1283.8 L1236.1,1284.4 L1240.1,1284.9 L1244.1,1285.4 L1248.0,1286.0 L1252.0,1286.5 L1256.0,1287.0 L1259.9,1287.5 L1263.9,1288.0 L1267.9,1288.5 L1271.8,1289.0 L1275.8,1289.5 L1279.8,1289.9 L1283.8,1290.4 L1287.7,1290.9 L1291.7,1291.3 L1295.7,1291.8 L1299.7,1292.2 L1303.6,1292.6 L1307.6,1293.0 L1311.6,1293.4 L1315.6,1293.8 L1319.5,1294.2 L1323.5,1294.6 L1327.5,1295.0 L1331.5,1295.4 L1335.5,1295.7 L1339.5,1296.1 L1343.4,1296.5 L1347.4,1296.8 L1351.4,1297.2 L1355.4,1297.6 L1359.4,1297.9 L1363.4,1298.3 L1367.3,1298.6 L1371.3,1299.0 L1375.3,1299.3 L1379.3,1299.7 L1383.3,1300.0 L1387.3,1300.4 L1391.3,1300.7 L1395.2,1301.0 L1399.2,1301.4 L1403.2,1301.7 L1407.2,1302.0 L1411.2,1302.4 L1415.2,1302.7 L1419.2,1303.0 L1423.1,1303.3 L1427.1,1303.6 L1431.1,1303.9 L1435.1,1304.2 L1439.1,1304.5 L1443.1,1304.8 L1447.1,1305.1 L1451.1,1305.3 L1455.1,1305.6 L1459.1,1305.8 L1463.0,1306.1 L1467.0,1306.3 L1471.0,1306.5 L1475.0,1306.7 L1479.0,1306.9 L1483.0,1307.0 L1487.0,1307.2 L1491.0,1307.4 L1495.0,1307.5 L1499.0,1307.7 L1503.0,1307.9 L1507.0,1308.0 L1511.0,1308.2 L1515.0,1308.4 L1519.0,1308.5 L1523.0,1308.7 L1527.0,1308.8 L1531.0,1308.9 L1535.0,1309.0 L1539.0,1309.1 L1543.0,1309.2 L1547.0,1309.3 L1551.0,1309.3 L1555.0,1309.4 L1559.0,1309.5 L1563.0,1309.5 L1567.0,1309.6 L1571.0,1309.6 L1575.0,1309.6 L1579.0,1309.6 L1583.0,1309.6 L1587.0,1309.5 L1590.9,1309.3 L1594.9,1309.0 L1598.8,1308.6 L1602.7,1307.9 L1606.5,1307.0 L1610.2,1305.7 L1613.8,1304.1 L1617.1,1302.2 L1620.2,1299.9 L1623.2,1297.4 L1625.9,1294.5 L1628.4,1291.5 L1630.7,1288.3 L1632.8,1284.9 L1634.7,1281.5 L1636.4,1277.9 L1638.0,1274.3 L1639.5,1270.6 L1640.8,1266.8 L1641.9,1263.0 L1643.0,1259.2 L1643.9,1255.3 L1644.7,1251.4 L1645.5,1247.4 L1646.2,1243.5 L1646.9,1239.6 L1647.5,1235.6 L1648.1,1231.7 L1648.6,1227.7 L1649.1,1223.7 L1649.6,1219.8 L1650.0,1215.8 L1650.5,1211.8 L1650.9,1207.8 L1651.3,1203.9 L1651.7,1199.9 L1652.1,1195.9 L1652.5,1191.9 L1652.9,1187.9 L1653.3,1184.0 L1653.7,1180.0 L1654.1,1176.0 L1654.5,1172.0 L1654.9,1168.0 L1655.3,1164.1 L1655.7,1160.1 L1656.1,1156.1 L1656.6,1152.1 L1657.0,1148.1 L1657.3,1144.2 L1657.7,1140.2 L1658.0,1136.2 L1658.3,1132.2 L1658.5,1128.2 L1658.8,1124.2 L1659.0,1120.2 L1659.2,1116.2 L1659.4,1112.2 L1659.7,1108.2 L1659.9,1104.3 L1660.1,1100.3 L1660.4,1096.3 L1660.6,1092.3 L1660.9,1088.3 L1661.1,1084.3 L1661.4,1080.3 L1661.6,1076.3 L1661.8,1072.3 L1662.1,1068.3 L1662.3,1064.3 L1662.5,1060.3 L1662.8,1056.3 L1663.0,1052.3 L1663.1,1048.3 L1663.3,1044.4 L1663.5,1040.4 L1663.7,1036.4 L1663.8,1032.4 L1664.0,1028.4 L1664.2,1024.4 L1664.3,1020.4 L1664.5,1016.4 L1664.6,1012.4 L1664.8,1008.4 L1665.0,1004.4 L1665.1,1000.4 L1665.3,996.4 L1665.4,992.4 L1665.5,988.4 L1665.7,984.4 L1665.8,980.4 L1665.9,976.4 L1666.0,972.4 L1666.0,968.4 L1666.1,964.4 L1666.2,960.4 L1666.3,956.4 L1666.4,952.4 L1666.5,948.4 L1666.6,944.4 L1666.6,940.4 L1666.7,936.4 L1666.8,932.4 L1666.9,928.4 L1667.0,924.4 L1667.1,920.5 L1667.1,916.5 L1667.2,912.8 L1667.3,909.3 L1667.4,906.3 L1667.5,900.0 L1667.5,900.0 L1671.9,749.0 L1674.2,540.0 L1676.2,350.0 L1678.0,152.0" fill="none" stroke="#a6dcb0" stroke-width="6" stroke-linejoin="round" stroke-linecap="butt"/>
<path d="M198.0,1346.6 L208.9,1346.6 L211.3,1346.6 L214.0,1346.6 L217.0,1346.6 L220.2,1346.6 L223.5,1346.6 L227.1,1346.6 L230.7,1346.6 L234.5,1346.6 L238.3,1346.6 L242.2,1346.6 L246.1,1346.6 L250.1,1346.5 L254.0,1346.5 L258.0,1346.5 L262.0,1346.5 L266.0,1346.5 L270.0,1346.5 L274.0,1346.5 L278.0,1346.5 L282.0,1346.5 L286.0,1346.5 L290.0,1346.5 L294.0,1346.5 L298.0,1346.5 L302.0,1346.5 L306.0,1346.5 L310.0,1346.5 L314.0,1346.5 L318.0,1346.5 L322.0,1346.5 L326.0,1346.5 L330.0,1346.5 L334.0,1346.5 L338.0,1346.4 L342.0,1346.4 L346.0,1346.4 L350.0,1346.4 L354.0,1346.4 L358.0,1346.4 L362.0,1346.4 L366.0,1346.4 L370.0,1346.4 L374.0,1346.4 L378.0,1346.4 L382.0,1346.4 L386.0,1346.4 L390.0,1346.4 L394.0,1346.4 L398.0,1346.4 L402.0,1346.4 L406.0,1346.4 L410.0,1346.4 L414.0,1346.3 L418.0,1346.3 L422.0,1346.3 L426.0,1346.3 L430.0,1346.3 L434.0,1346.3 L438.0,1346.3 L442.0,1346.3 L446.0,1346.3 L450.0,1346.3 L454.0,1346.3 L458.0,1346.3 L462.0,1346.2 L466.0,1346.2 L470.0,1346.2 L474.0,1346.2 L478.0,1346.2 L482.0,1346.2 L486.0,1346.2 L490.0,1346.1 L494.0,1346.1 L498.0,1346.1 L502.0,1346.1 L506.0,1346.1 L510.0,1346.1 L514.0,1346.0 L518.0,1346.0 L522.0,1346.0 L526.0,1346.0 L530.0,1346.0 L534.0,1345.9 L538.0,1345.9 L542.0,1345.9 L546.0,1345.9 L550.0,1345.9 L554.0,1345.8 L558.0,1345.8 L562.0,1345.8 L566.0,1345.7 L570.0,1345.7 L574.0,1345.7 L578.0,1345.6 L582.0,1345.6 L586.0,1345.6 L590.0,1345.5 L594.0,1345.5 L598.0,1345.5 L602.0,1345.4 L606.0,1345.4 L610.0,1345.4 L614.0,1345.3 L618.0,1345.3 L622.0,1345.2 L626.0,1345.2 L630.0,1345.2 L634.0,1345.1 L638.0,1345.1 L642.0,1345.0 L646.0,1345.0 L650.0,1344.9 L654.0,1344.9 L658.0,1344.8 L662.0,1344.8 L666.0,1344.7 L670.0,1344.6 L674.0,1344.6 L678.0,1344.5 L682.0,1344.4 L686.0,1344.4 L690.0,1344.3 L694.0,1344.2 L698.0,1344.1 L702.0,1344.1 L706.0,1344.0 L710.0,1343.9 L714.0,1343.8 L718.0,1343.7 L722.0,1343.6 L726.0,1343.5 L730.0,1343.4 L734.0,1343.2 L738.0,1343.1 L742.0,1343.0 L746.0,1342.9 L750.0,1342.7 L754.0,1342.6 L758.0,1342.4 L762.0,1342.3 L766.0,1342.2 L770.0,1342.0 L773.9,1341.9 L777.9,1341.7 L781.9,1341.5 L785.9,1341.4 L789.9,1341.2 L793.9,1341.0 L797.9,1340.8 L801.9,1340.6 L805.9,1340.5 L809.9,1340.3 L813.9,1340.1 L817.9,1339.9 L821.9,1339.6 L825.9,1339.4 L829.9,1339.2 L833.9,1339.0 L837.9,1338.7 L841.9,1338.5 L845.9,1338.2 L849.8,1337.9 L853.8,1337.7 L857.8,1337.4 L861.8,1337.1 L865.8,1336.7 L869.8,1336.4 L873.8,1336.1 L877.7,1335.7 L881.7,1335.4 L885.7,1335.0 L889.7,1334.6 L893.7,1334.2 L897.6,1333.7 L901.6,1333.3 L905.6,1332.8 L909.5,1332.3 L913.5,1331.7 L917.4,1331.1 L921.4,1330.5 L925.3,1329.8 L929.2,1329.1 L933.2,1328.4 L937.1,1327.6 L941.0,1326.8 L944.9,1325.9 L948.8,1325.0 L952.7,1324.1 L956.6,1323.1 L960.4,1322.2 L964.3,1321.2 L968.2,1320.1 L972.0,1319.1 L975.9,1318.0 L979.7,1316.9 L983.5,1315.8 L987.4,1314.6 L991.2,1313.4 L995.0,1312.3 L998.8,1311.0 L1002.6,1309.8 L1006.4,1308.6 L1010.2,1307.3 L1014.0,1306.0 L1017.8,1304.7 L1021.5,1303.3 L1025.3,1302.0 L1029.1,1300.6 L1032.8,1299.2 L1036.6,1297.9 L1040.3,1296.5 L1044.0,1295.1 L1047.8,1293.7 L1051.5,1292.3 L1055.3,1290.9 L1059.1,1289.6 L1062.8,1288.3 L1066.6,1287.0 L1070.4,1285.8 L1074.2,1284.6 L1078.0,1283.5 L1081.9,1282.4 L1085.7,1281.4 L1089.6,1280.4 L1093.5,1279.6 L1097.3,1278.8 L1101.3,1278.0 L1105.2,1277.4 L1109.1,1276.8 L1113.1,1276.3 L1117.0,1275.8 L1121.0,1275.5 L1124.9,1275.2 L1128.9,1274.9 L1132.9,1274.8 L1136.9,1274.7 L1140.9,1274.6 L1144.8,1274.6 L1148.8,1274.7 L1152.8,1274.8 L1156.8,1275.0 L1160.8,1275.2 L1164.8,1275.4 L1168.7,1275.7 L1172.7,1276.1 L1176.7,1276.4 L1180.7,1276.8 L1184.7,1277.3 L1188.6,1277.7 L1192.6,1278.2 L1196.6,1278.7 L1200.5,1279.3 L1204.5,1279.8 L1208.4,1280.4 L1212.4,1280.9 L1216.4,1281.5 L1220.3,1282.1 L1224.3,1282.7 L1228.2,1283.2 L1232.2,1283.8 L1236.1,1284.4 L1240.1,1284.9 L1244.1,1285.4 L1248.0,1286.0 L1252.0,1286.5 L1256.0,1287.0 L1259.9,1287.5 L1263.9,1288.0 L1267.9,1288.5 L1271.8,1289.0 L1275.8,1289.5 L1279.8,1289.9 L1283.8,1290.4 L1287.7,1290.9 L1291.7,1291.3 L1295.7,1291.8 L1299.7,1292.2 L1303.6,1292.6 L1307.6,1293.0 L1311.6,1293.4 L1315.6,1293.8 L1319.5,1294.2 L1323.5,1294.6 L1327.5,1295.0 L1331.5,1295.4 L1335.5,1295.7 L1339.5,1296.1 L1343.4,1296.5 L1347.4,1296.8 L1351.4,1297.2 L1355.4,1297.6 L1359.4,1297.9 L1363.4,1298.3 L1367.3,1298.6 L1371.3,1299.0 L1375.3,1299.3 L1379.3,1299.7 L1383.3,1300.0 L1387.3,1300.4 L1391.3,1300.7 L1395.2,1301.0 L1399.2,1301.4 L1403.2,1301.7 L1407.2,1302.0 L1411.2,1302.4 L1415.2,1302.7 L1419.2,1303.0 L1423.1,1303.3 L1427.1,1303.6 L1431.1,1303.9 L1435.1,1304.2 L1439.1,1304.5 L1443.1,1304.8 L1447.1,1305.1 L1451.1,1305.3 L1455.1,1305.6 L1459.1,1305.8 L1463.0,1306.1 L1467.0,1306.3 L1471.0,1306.5 L1475.0,1306.7 L1479.0,1306.9 L1483.0,1307.0 L1487.0,1307.2 L1491.0,1307.4 L1495.0,1307.5 L1499.0,1307.7 L1503.0,1307.9 L1507.0,1308.0 L1511.0,1308.2 L1515.0,1308.4 L1519.0,1308.5 L1523.0,1308.7 L1527.0,1308.8 L1531.0,1308.9 L1535.0,1309.0 L1539.0,1309.1 L1543.0,1309.2 L1547.0,1309.3 L1551.0,1309.3 L1555.0,1309.4 L1559.0,1309.5 L1563.0,1309.5 L1567.0,1309.6 L1571.0,1309.6 L1575.0,1309.6 L1579.0,1309.6 L1583.0,1309.6 L1587.0,1309.5 L1590.9,1309.3 L1594.9,1309.0 L1598.8,1308.6 L1602.7,1307.9 L1606.5,1307.0 L1610.2,1305.7 L1613.8,1304.1 L1617.1,1302.2 L1620.2,1299.9 L1623.2,1297.4 L1625.9,1294.5 L1628.4,1291.5 L1630.7,1288.3 L1632.8,1284.9 L1634.7,1281.5 L1636.4,1277.9 L1638.0,1274.3 L1639.5,1270.6 L1640.8,1266.8 L1641.9,1263.0 L1643.0,1259.2 L1643.9,1255.3 L1644.7,1251.4 L1645.5,1247.4 L1646.2,1243.5 L1646.9,1239.6 L1647.5,1235.6 L1648.1,1231.7 L1648.6,1227.7 L1649.1,1223.7 L1649.6,1219.8 L1650.0,1215.8 L1650.5,1211.8 L1650.9,1207.8 L1651.3,1203.9 L1651.7,1199.9 L1652.1,1195.9 L1652.5,1191.9 L1652.9,1187.9 L1653.3,1184.0 L1653.7,1180.0 L1654.1,1176.0 L1654.5,1172.0 L1654.9,1168.0 L1655.3,1164.1 L1655.7,1160.1 L1656.1,1156.1 L1656.6,1152.1 L1657.0,1148.1 L1657.3,1144.2 L1657.7,1140.2 L1658.0,1136.2 L1658.3,1132.2 L1658.5,1128.2 L1658.8,1124.2 L1659.0,1120.2 L1659.2,1116.2 L1659.4,1112.2 L1659.7,1108.2 L1659.9,1104.3 L1660.1,1100.3 L1660.4,1096.3 L1660.6,1092.3 L1660.9,1088.3 L1661.1,1084.3 L1661.4,1080.3 L1661.6,1076.3 L1661.8,1072.3 L1662.1,1068.3 L1662.3,1064.3 L1662.5,1060.3 L1662.8,1056.3 L1663.0,1052.3 L1663.1,1048.3 L1663.3,1044.4 L1663.5,1040.4 L1663.7,1036.4 L1663.8,1032.4 L1664.0,1028.4 L1664.2,1024.4 L1664.3,1020.4 L1664.5,1016.4 L1664.6,1012.4 L1664.8,1008.4 L1665.0,1004.4 L1665.1,1000.4 L1665.3,996.4 L1665.4,992.4 L1665.5,988.4 L1665.7,984.4 L1665.8,980.4 L1665.9,976.4 L1666.0,972.4 L1666.0,968.4 L1666.1,964.4 L1666.2,960.4 L1666.3,956.4 L1666.4,952.4 L1666.5,948.4 L1666.6,944.4 L1666.6,940.4 L1666.7,936.4 L1666.8,932.4 L1666.9,928.4 L1667.0,924.4 L1667.1,920.5 L1667.1,916.5 L1667.2,912.8 L1667.3,909.3 L1667.4,906.3 L1667.5,900.0 L1667.5,900.0 L1671.9,749.0 L1674.2,540.0 L1676.2,350.0 L1678.0,152.0" fill="none" stroke="#2aab4b" stroke-width="3.6" stroke-linejoin="round" stroke-linecap="butt"/>
<path d="M1923.3,1346.7 L1924.0,1340.8 L1924.4,1337.9 L1924.8,1334.4 L1925.3,1330.7 L1925.8,1326.8 L1926.3,1322.9 L1926.8,1318.9 L1927.3,1315.0 L1927.8,1311.0 L1928.4,1307.0 L1929.0,1303.1 L1929.6,1299.1 L1930.2,1295.2 L1930.9,1291.2 L1931.5,1287.3 L1932.2,1283.3 L1932.8,1279.4 L1933.5,1275.4 L1934.2,1271.5 L1934.8,1267.5 L1935.5,1263.6 L1936.1,1259.7 L1936.7,1255.7 L1937.4,1251.8 L1938.0,1247.8 L1938.6,1243.9 L1939.2,1239.9 L1939.9,1236.0 L1940.5,1232.0 L1941.1,1228.0 L1941.7,1224.1 L1942.3,1220.1 L1943.0,1216.2 L1943.6,1212.2 L1944.2,1208.3 L1944.9,1204.3 L1945.5,1200.4 L1946.1,1196.4 L1946.8,1192.5 L1947.4,1188.6 L1948.1,1184.6 L1948.7,1180.7 L1949.4,1176.7 L1950.1,1172.8 L1950.8,1168.8 L1951.4,1164.9 L1952.1,1161.0 L1952.9,1157.0 L1953.6,1153.1 L1954.4,1149.2 L1955.2,1145.2 L1955.9,1141.3 L1956.7,1137.4 L1957.5,1133.5 L1958.3,1129.6 L1959.0,1125.6 L1959.8,1121.7 L1960.5,1117.8 L1961.2,1113.8 L1961.9,1109.9 L1962.6,1106.0 L1963.4,1102.0 L1964.2,1098.1 L1964.9,1094.2 L1965.7,1090.3 L1966.6,1086.3 L1967.4,1082.4 L1968.2,1078.5 L1969.0,1074.6 L1969.9,1070.7 L1970.7,1066.8 L1971.6,1062.9 L1972.5,1059.0 L1973.4,1055.1 L1974.4,1051.2 L1975.3,1047.3 L1976.3,1043.4 L1977.3,1039.6 L1978.4,1035.7 L1979.5,1031.9 L1980.6,1028.1 L1981.8,1024.2 L1983.0,1020.4 L1984.2,1016.6 L1985.4,1012.8 L1986.6,1009.0 L1987.8,1005.2 L1989.1,1001.4 L1990.5,997.7 L1992.1,994.0 L1993.8,990.5 L1995.8,987.2 L1998.1,984.1 L2000.7,981.4 L2003.5,979.3 L2006.7,977.9 L2010.0,977.3 L2013.4,977.6 L2016.7,978.6 L2019.9,980.4 L2022.9,982.7 L2025.7,985.4 L2028.3,988.3 L2030.7,991.4 L2032.9,994.7 L2035.1,998.1 L2037.1,1001.5 L2039.1,1005.0 L2041.1,1008.5 L2043.0,1012.0 L2044.9,1015.5 L2046.9,1019.0 L2048.8,1022.5 L2050.7,1026.0 L2052.7,1029.5 L2054.6,1033.0 L2056.6,1036.4 L2058.6,1039.9 L2060.6,1043.3 L2062.7,1046.7 L2064.9,1050.1 L2067.0,1053.5 L2069.2,1056.8 L2071.4,1060.2 L2073.7,1063.4 L2076.1,1066.7 L2078.5,1069.8 L2081.0,1072.9 L2083.6,1076.0 L2086.2,1079.0 L2088.9,1081.9 L2091.6,1084.9 L2094.3,1087.8 L2097.0,1090.8 L2099.8,1093.6 L2102.6,1096.5 L2105.5,1099.2 L2108.5,1101.9 L2111.5,1104.5 L2114.5,1107.1 L2117.6,1109.7 L2120.7,1112.2 L2123.8,1114.6 L2127.0,1117.1 L2130.2,1119.5 L2133.4,1121.8 L2136.6,1124.2 L2139.9,1126.4 L2143.2,1128.7 L2146.6,1130.9 L2149.9,1133.0 L2153.3,1135.1 L2156.7,1137.2 L2160.2,1139.2 L2163.6,1141.1 L2167.1,1143.1 L2170.6,1145.0 L2174.2,1146.9 L2177.7,1148.7 L2181.3,1150.5 L2184.8,1152.3 L2188.4,1154.0 L2192.0,1155.7 L2195.7,1157.3 L2199.3,1158.9 L2203.0,1160.5 L2206.7,1162.0 L2210.4,1163.5 L2214.1,1165.0 L2217.8,1166.4 L2221.6,1167.8 L2225.3,1169.2 L2229.1,1170.6 L2232.8,1172.0 L2236.6,1173.3 L2240.4,1174.6 L2244.2,1175.9 L2247.9,1177.1 L2251.8,1178.4 L2255.6,1179.6 L2259.4,1180.7 L2263.2,1181.9 L2267.0,1183.0 L2270.9,1184.1 L2274.7,1185.1 L2278.6,1186.1 L2282.5,1187.1 L2286.4,1188.1 L2290.2,1189.1 L2294.1,1190.0 L2298.0,1190.9 L2301.9,1191.8 L2305.8,1192.7 L2309.7,1193.6 L2313.6,1194.4 L2317.5,1195.3 L2321.4,1196.2 L2325.3,1197.0 L2329.2,1197.9 L2333.1,1198.8 L2337.0,1199.6 L2340.9,1200.5 L2344.8,1201.4 L2348.7,1202.2 L2352.6,1203.1 L2356.5,1204.0 L2360.4,1204.8 L2364.3,1205.6 L2368.3,1206.4 L2372.2,1207.2 L2376.1,1207.9 L2380.0,1208.7 L2384.0,1209.4 L2387.9,1210.0 L2391.9,1210.7 L2395.8,1211.3 L2399.7,1211.9 L2403.7,1212.6 L2407.7,1213.2 L2411.6,1213.8 L2415.6,1214.3 L2419.5,1214.9 L2423.5,1215.5 L2427.4,1216.1 L2431.4,1216.6 L2435.4,1217.2 L2439.3,1217.7 L2443.3,1218.3 L2447.2,1218.8 L2451.2,1219.3 L2455.2,1219.9 L2459.1,1220.4 L2463.1,1220.9 L2467.1,1221.4 L2471.0,1221.9 L2475.0,1222.4 L2479.0,1222.9 L2482.9,1223.4 L2486.9,1223.9 L2490.9,1224.4 L2494.9,1224.9 L2498.8,1225.4 L2502.8,1225.9 L2506.8,1226.3 L2510.7,1226.8 L2514.7,1227.3 L2518.7,1227.7 L2522.7,1228.2 L2526.6,1228.6 L2530.6,1229.1 L2534.6,1229.5 L2538.6,1229.9 L2542.5,1230.3 L2546.5,1230.8 L2550.5,1231.2 L2554.5,1231.6 L2558.5,1232.0 L2562.4,1232.4 L2566.4,1232.9 L2570.4,1233.3 L2574.4,1233.7 L2578.3,1234.1 L2582.3,1234.5 L2586.3,1234.9 L2590.3,1235.3 L2594.3,1235.7 L2598.2,1236.1 L2602.2,1236.5 L2606.2,1236.8 L2610.2,1237.2 L2614.2,1237.6 L2618.2,1237.9 L2622.1,1238.3 L2626.1,1238.6 L2630.1,1238.9 L2634.1,1239.3 L2638.1,1239.6 L2642.1,1239.9 L2646.1,1240.3 L2650.0,1240.6 L2654.0,1240.9 L2658.0,1241.2 L2662.0,1241.5 L2666.0,1241.9 L2670.0,1242.2 L2674.0,1242.5 L2678.0,1242.8 L2682.0,1243.0 L2685.9,1243.3 L2689.9,1243.6 L2693.9,1243.9 L2697.9,1244.2 L2701.9,1244.4 L2705.9,1244.7 L2709.9,1245.0 L2713.9,1245.3 L2717.9,1245.5 L2721.9,1245.8 L2725.8,1246.1 L2729.8,1246.3 L2733.8,1246.6 L2737.8,1246.9 L2741.8,1247.1 L2745.8,1247.4 L2749.8,1247.7 L2753.8,1247.9 L2757.8,1248.2 L2761.8,1248.5 L2765.8,1248.7 L2769.8,1249.0 L2773.7,1249.2 L2777.7,1249.5 L2781.7,1249.8 L2785.7,1250.0 L2789.7,1250.3 L2793.7,1250.5 L2797.7,1250.8 L2801.7,1251.0 L2805.7,1251.2 L2809.7,1251.5 L2813.7,1251.7 L2817.7,1251.9 L2821.7,1252.2 L2825.6,1252.4 L2829.6,1252.6 L2833.6,1252.8 L2837.6,1253.0 L2841.6,1253.2 L2845.6,1253.4 L2849.6,1253.6 L2853.6,1253.8 L2857.6,1254.0 L2861.6,1254.2 L2865.6,1254.3 L2869.6,1254.5 L2873.6,1254.7 L2877.6,1254.9 L2881.6,1255.1 L2885.6,1255.3 L2889.6,1255.5 L2893.6,1255.7 L2897.6,1255.9 L2901.6,1256.1 L2905.6,1256.2 L2909.6,1256.4 L2913.5,1256.6 L2917.5,1256.8 L2921.5,1257.0 L2925.5,1257.2 L2929.5,1257.3 L2933.5,1257.5 L2937.5,1257.7 L2941.5,1257.9 L2945.5,1258.1 L2949.5,1258.3 L2953.5,1258.4 L2957.5,1258.6 L2961.5,1258.8 L2965.5,1259.0 L2969.5,1259.2 L2973.5,1259.4 L2977.5,1259.5 L2981.5,1259.7 L2985.5,1259.9 L2989.5,1260.1 L2993.5,1260.3 L2997.5,1260.5 L3001.5,1260.6 L3005.4,1260.8 L3009.4,1261.0 L3013.4,1261.2 L3017.4,1261.4 L3021.4,1261.5 L3025.4,1261.7 L3029.4,1261.9 L3033.4,1262.1 L3037.4,1262.3 L3041.4,1262.5 L3045.4,1262.6 L3049.4,1262.8 L3053.4,1263.0 L3057.4,1263.2 L3061.4,1263.4 L3065.4,1263.6 L3069.4,1263.7 L3073.4,1263.9 L3077.4,1264.1 L3081.4,1264.3 L3085.4,1264.5 L3089.4,1264.6 L3093.4,1264.8 L3097.4,1265.0 L3101.4,1265.2 L3105.3,1265.4 L3109.3,1265.6 L3113.3,1265.7 L3117.3,1265.9 L3121.3,1266.1 L3125.3,1266.3 L3129.3,1266.5 L3133.3,1266.6 L3137.3,1266.8 L3141.3,1267.0 L3145.3,1267.2 L3149.3,1267.3 L3153.3,1267.5 L3157.3,1267.7 L3161.3,1267.9 L3165.3,1268.1 L3169.3,1268.2 L3173.3,1268.4 L3177.3,1268.6 L3181.3,1268.8 L3185.3,1268.9 L3189.3,1269.1 L3193.3,1269.2 L3197.3,1269.4 L3201.3,1269.6 L3205.3,1269.7 L3209.2,1269.8 L3213.2,1270.0 L3217.2,1270.1 L3221.2,1270.2 L3225.2,1270.3 L3229.2,1270.5 L3233.2,1270.6 L3237.2,1270.7 L3241.2,1270.8 L3245.2,1270.9 L3249.2,1271.0 L3253.2,1271.1 L3257.2,1271.2 L3261.2,1271.3 L3265.2,1271.4 L3269.2,1271.5 L3273.2,1271.6 L3277.2,1271.7 L3281.2,1271.8 L3285.2,1271.8 L3289.2,1271.9 L3293.2,1272.0 L3297.2,1272.1 L3301.2,1272.2 L3305.2,1272.3 L3309.2,1272.4 L3313.2,1272.5 L3317.2,1272.5 L3321.2,1272.6 L3325.2,1272.7 L3329.2,1272.7 L3333.2,1272.8 L3337.2,1272.8 L3341.2,1272.9 L3345.2,1273.0 L3349.2,1273.0 L3353.2,1273.1 L3357.2,1273.1 L3361.2,1273.1 L3365.2,1273.2 L3369.2,1273.1 L3373.1,1273.0 L3376.9,1272.8 L3380.6,1272.3 L3383.8,1271.6 L3386.6,1270.7 L3388.7,1269.6 L3392.0,1266.9 L3394.4,1248.8 L3396.2,1224.6 L3397.4,1194.4 L3398.0,1164.2 L3399.0,1140.0 L3401.0,800.0 L3402.5,400.0 L3403.0,152.0" fill="none" stroke="#a6dcb0" stroke-width="6" stroke-linejoin="round" stroke-linecap="butt"/>
<path d="M1923.3,1346.7 L1924.0,1340.8 L1924.4,1337.9 L1924.8,1334.4 L1925.3,1330.7 L1925.8,1326.8 L1926.3,1322.9 L1926.8,1318.9 L1927.3,1315.0 L1927.8,1311.0 L1928.4,1307.0 L1929.0,1303.1 L1929.6,1299.1 L1930.2,1295.2 L1930.9,1291.2 L1931.5,1287.3 L1932.2,1283.3 L1932.8,1279.4 L1933.5,1275.4 L1934.2,1271.5 L1934.8,1267.5 L1935.5,1263.6 L1936.1,1259.7 L1936.7,1255.7 L1937.4,1251.8 L1938.0,1247.8 L1938.6,1243.9 L1939.2,1239.9 L1939.9,1236.0 L1940.5,1232.0 L1941.1,1228.0 L1941.7,1224.1 L1942.3,1220.1 L1943.0,1216.2 L1943.6,1212.2 L1944.2,1208.3 L1944.9,1204.3 L1945.5,1200.4 L1946.1,1196.4 L1946.8,1192.5 L1947.4,1188.6 L1948.1,1184.6 L1948.7,1180.7 L1949.4,1176.7 L1950.1,1172.8 L1950.8,1168.8 L1951.4,1164.9 L1952.1,1161.0 L1952.9,1157.0 L1953.6,1153.1 L1954.4,1149.2 L1955.2,1145.2 L1955.9,1141.3 L1956.7,1137.4 L1957.5,1133.5 L1958.3,1129.6 L1959.0,1125.6 L1959.8,1121.7 L1960.5,1117.8 L1961.2,1113.8 L1961.9,1109.9 L1962.6,1106.0 L1963.4,1102.0 L1964.2,1098.1 L1964.9,1094.2 L1965.7,1090.3 L1966.6,1086.3 L1967.4,1082.4 L1968.2,1078.5 L1969.0,1074.6 L1969.9,1070.7 L1970.7,1066.8 L1971.6,1062.9 L1972.5,1059.0 L1973.4,1055.1 L1974.4,1051.2 L1975.3,1047.3 L1976.3,1043.4 L1977.3,1039.6 L1978.4,1035.7 L1979.5,1031.9 L1980.6,1028.1 L1981.8,1024.2 L1983.0,1020.4 L1984.2,1016.6 L1985.4,1012.8 L1986.6,1009.0 L1987.8,1005.2 L1989.1,1001.4 L1990.5,997.7 L1992.1,994.0 L1993.8,990.5 L1995.8,987.2 L1998.1,984.1 L2000.7,981.4 L2003.5,979.3 L2006.7,977.9 L2010.0,977.3 L2013.4,977.6 L2016.7,978.6 L2019.9,980.4 L2022.9,982.7 L2025.7,985.4 L2028.3,988.3 L2030.7,991.4 L2032.9,994.7 L2035.1,998.1 L2037.1,1001.5 L2039.1,1005.0 L2041.1,1008.5 L2043.0,1012.0 L2044.9,1015.5 L2046.9,1019.0 L2048.8,1022.5 L2050.7,1026.0 L2052.7,1029.5 L2054.6,1033.0 L2056.6,1036.4 L2058.6,1039.9 L2060.6,1043.3 L2062.7,1046.7 L2064.9,1050.1 L2067.0,1053.5 L2069.2,1056.8 L2071.4,1060.2 L2073.7,1063.4 L2076.1,1066.7 L2078.5,1069.8 L2081.0,1072.9 L2083.6,1076.0 L2086.2,1079.0 L2088.9,1081.9 L2091.6,1084.9 L2094.3,1087.8 L2097.0,1090.8 L2099.8,1093.6 L2102.6,1096.5 L2105.5,1099.2 L2108.5,1101.9 L2111.5,1104.5 L2114.5,1107.1 L2117.6,1109.7 L2120.7,1112.2 L2123.8,1114.6 L2127.0,1117.1 L2130.2,1119.5 L2133.4,1121.8 L2136.6,1124.2 L2139.9,1126.4 L2143.2,1128.7 L2146.6,1130.9 L2149.9,1133.0 L2153.3,1135.1 L2156.7,1137.2 L2160.2,1139.2 L2163.6,1141.1 L2167.1,1143.1 L2170.6,1145.0 L2174.2,1146.9 L2177.7,1148.7 L2181.3,1150.5 L2184.8,1152.3 L2188.4,1154.0 L2192.0,1155.7 L2195.7,1157.3 L2199.3,1158.9 L2203.0,1160.5 L2206.7,1162.0 L2210.4,1163.5 L2214.1,1165.0 L2217.8,1166.4 L2221.6,1167.8 L2225.3,1169.2 L2229.1,1170.6 L2232.8,1172.0 L2236.6,1173.3 L2240.4,1174.6 L2244.2,1175.9 L2247.9,1177.1 L2251.8,1178.4 L2255.6,1179.6 L2259.4,1180.7 L2263.2,1181.9 L2267.0,1183.0 L2270.9,1184.1 L2274.7,1185.1 L2278.6,1186.1 L2282.5,1187.1 L2286.4,1188.1 L2290.2,1189.1 L2294.1,1190.0 L2298.0,1190.9 L2301.9,1191.8 L2305.8,1192.7 L2309.7,1193.6 L2313.6,1194.4 L2317.5,1195.3 L2321.4,1196.2 L2325.3,1197.0 L2329.2,1197.9 L2333.1,1198.8 L2337.0,1199.6 L2340.9,1200.5 L2344.8,1201.4 L2348.7,1202.2 L2352.6,1203.1 L2356.5,1204.0 L2360.4,1204.8 L2364.3,1205.6 L2368.3,1206.4 L2372.2,1207.2 L2376.1,1207.9 L2380.0,1208.7 L2384.0,1209.4 L2387.9,1210.0 L2391.9,1210.7 L2395.8,1211.3 L2399.7,1211.9 L2403.7,1212.6 L2407.7,1213.2 L2411.6,1213.8 L2415.6,1214.3 L2419.5,1214.9 L2423.5,1215.5 L2427.4,1216.1 L2431.4,1216.6 L2435.4,1217.2 L2439.3,1217.7 L2443.3,1218.3 L2447.2,1218.8 L2451.2,1219.3 L2455.2,1219.9 L2459.1,1220.4 L2463.1,1220.9 L2467.1,1221.4 L2471.0,1221.9 L2475.0,1222.4 L2479.0,1222.9 L2482.9,1223.4 L2486.9,1223.9 L2490.9,1224.4 L2494.9,1224.9 L2498.8,1225.4 L2502.8,1225.9 L2506.8,1226.3 L2510.7,1226.8 L2514.7,1227.3 L2518.7,1227.7 L2522.7,1228.2 L2526.6,1228.6 L2530.6,1229.1 L2534.6,1229.5 L2538.6,1229.9 L2542.5,1230.3 L2546.5,1230.8 L2550.5,1231.2 L2554.5,1231.6 L2558.5,1232.0 L2562.4,1232.4 L2566.4,1232.9 L2570.4,1233.3 L2574.4,1233.7 L2578.3,1234.1 L2582.3,1234.5 L2586.3,1234.9 L2590.3,1235.3 L2594.3,1235.7 L2598.2,1236.1 L2602.2,1236.5 L2606.2,1236.8 L2610.2,1237.2 L2614.2,1237.6 L2618.2,1237.9 L2622.1,1238.3 L2626.1,1238.6 L2630.1,1238.9 L2634.1,1239.3 L2638.1,1239.6 L2642.1,1239.9 L2646.1,1240.3 L2650.0,1240.6 L2654.0,1240.9 L2658.0,1241.2 L2662.0,1241.5 L2666.0,1241.9 L2670.0,1242.2 L2674.0,1242.5 L2678.0,1242.8 L2682.0,1243.0 L2685.9,1243.3 L2689.9,1243.6 L2693.9,1243.9 L2697.9,1244.2 L2701.9,1244.4 L2705.9,1244.7 L2709.9,1245.0 L2713.9,1245.3 L2717.9,1245.5 L2721.9,1245.8 L2725.8,1246.1 L2729.8,1246.3 L2733.8,1246.6 L2737.8,1246.9 L2741.8,1247.1 L2745.8,1247.4 L2749.8,1247.7 L2753.8,1247.9 L2757.8,1248.2 L2761.8,1248.5 L2765.8,1248.7 L2769.8,1249.0 L2773.7,1249.2 L2777.7,1249.5 L2781.7,1249.8 L2785.7,1250.0 L2789.7,1250.3 L2793.7,1250.5 L2797.7,1250.8 L2801.7,1251.0 L2805.7,1251.2 L2809.7,1251.5 L2813.7,1251.7 L2817.7,1251.9 L2821.7,1252.2 L2825.6,1252.4 L2829.6,1252.6 L2833.6,1252.8 L2837.6,1253.0 L2841.6,1253.2 L2845.6,1253.4 L2849.6,1253.6 L2853.6,1253.8 L2857.6,1254.0 L2861.6,1254.2 L2865.6,1254.3 L2869.6,1254.5 L2873.6,1254.7 L2877.6,1254.9 L2881.6,1255.1 L2885.6,1255.3 L2889.6,1255.5 L2893.6,1255.7 L2897.6,1255.9 L2901.6,1256.1 L2905.6,1256.2 L2909.6,1256.4 L2913.5,1256.6 L2917.5,1256.8 L2921.5,1257.0 L2925.5,1257.2 L2929.5,1257.3 L2933.5,1257.5 L2937.5,1257.7 L2941.5,1257.9 L2945.5,1258.1 L2949.5,1258.3 L2953.5,1258.4 L2957.5,1258.6 L2961.5,1258.8 L2965.5,1259.0 L2969.5,1259.2 L2973.5,1259.4 L2977.5,1259.5 L2981.5,1259.7 L2985.5,1259.9 L2989.5,1260.1 L2993.5,1260.3 L2997.5,1260.5 L3001.5,1260.6 L3005.4,1260.8 L3009.4,1261.0 L3013.4,1261.2 L3017.4,1261.4 L3021.4,1261.5 L3025.4,1261.7 L3029.4,1261.9 L3033.4,1262.1 L3037.4,1262.3 L3041.4,1262.5 L3045.4,1262.6 L3049.4,1262.8 L3053.4,1263.0 L3057.4,1263.2 L3061.4,1263.4 L3065.4,1263.6 L3069.4,1263.7 L3073.4,1263.9 L3077.4,1264.1 L3081.4,1264.3 L3085.4,1264.5 L3089.4,1264.6 L3093.4,1264.8 L3097.4,1265.0 L3101.4,1265.2 L3105.3,1265.4 L3109.3,1265.6 L3113.3,1265.7 L3117.3,1265.9 L3121.3,1266.1 L3125.3,1266.3 L3129.3,1266.5 L3133.3,1266.6 L3137.3,1266.8 L3141.3,1267.0 L3145.3,1267.2 L3149.3,1267.3 L3153.3,1267.5 L3157.3,1267.7 L3161.3,1267.9 L3165.3,1268.1 L3169.3,1268.2 L3173.3,1268.4 L3177.3,1268.6 L3181.3,1268.8 L3185.3,1268.9 L3189.3,1269.1 L3193.3,1269.2 L3197.3,1269.4 L3201.3,1269.6 L3205.3,1269.7 L3209.2,1269.8 L3213.2,1270.0 L3217.2,1270.1 L3221.2,1270.2 L3225.2,1270.3 L3229.2,1270.5 L3233.2,1270.6 L3237.2,1270.7 L3241.2,1270.8 L3245.2,1270.9 L3249.2,1271.0 L3253.2,1271.1 L3257.2,1271.2 L3261.2,1271.3 L3265.2,1271.4 L3269.2,1271.5 L3273.2,1271.6 L3277.2,1271.7 L3281.2,1271.8 L3285.2,1271.8 L3289.2,1271.9 L3293.2,1272.0 L3297.2,1272.1 L3301.2,1272.2 L3305.2,1272.3 L3309.2,1272.4 L3313.2,1272.5 L3317.2,1272.5 L3321.2,1272.6 L3325.2,1272.7 L3329.2,1272.7 L3333.2,1272.8 L3337.2,1272.8 L3341.2,1272.9 L3345.2,1273.0 L3349.2,1273.0 L3353.2,1273.1 L3357.2,1273.1 L3361.2,1273.1 L3365.2,1273.2 L3369.2,1273.1 L3373.1,1273.0 L3376.9,1272.8 L3380.6,1272.3 L3383.8,1271.6 L3386.6,1270.7 L3388.7,1269.6 L3392.0,1266.9 L3394.4,1248.8 L3396.2,1224.6 L3397.4,1194.4 L3398.0,1164.2 L3399.0,1140.0 L3401.0,800.0 L3402.5,400.0 L3403.0,152.0" fill="none" stroke="#2aab4b" stroke-width="3.6" stroke-linejoin="round" stroke-linecap="butt"/>
<text x="740.94" y="1619.50" font-size="75.0" fill="#000" font-family='"Liberation Serif", serif' textLength="23.21" lengthAdjust="spacingAndGlyphs">(</text>
<text x="765.33" y="1619.50" font-size="78.0" fill="#000" font-family='"Liberation Serif", serif' font-weight="bold" textLength="36.78" lengthAdjust="spacingAndGlyphs">a</text>
<text x="804.12" y="1619.50" font-size="75.0" fill="#000" font-family='"Liberation Serif", serif' textLength="22.56" lengthAdjust="spacingAndGlyphs">)</text>
<text x="2585.74" y="1619.50" font-size="75.0" fill="#000" font-family='"Liberation Serif", serif' textLength="23.21" lengthAdjust="spacingAndGlyphs">(</text>
<text x="2609.96" y="1619.80" font-size="78.0" fill="#000" font-family='"Liberation Serif", serif' font-weight="bold" textLength="45.45" lengthAdjust="spacingAndGlyphs">b</text>
<text x="2656.65" y="1619.50" font-size="75.0" fill="#000" font-family='"Liberation Serif", serif' textLength="23.21" lengthAdjust="spacingAndGlyphs">)</text>
</svg></body></html>
